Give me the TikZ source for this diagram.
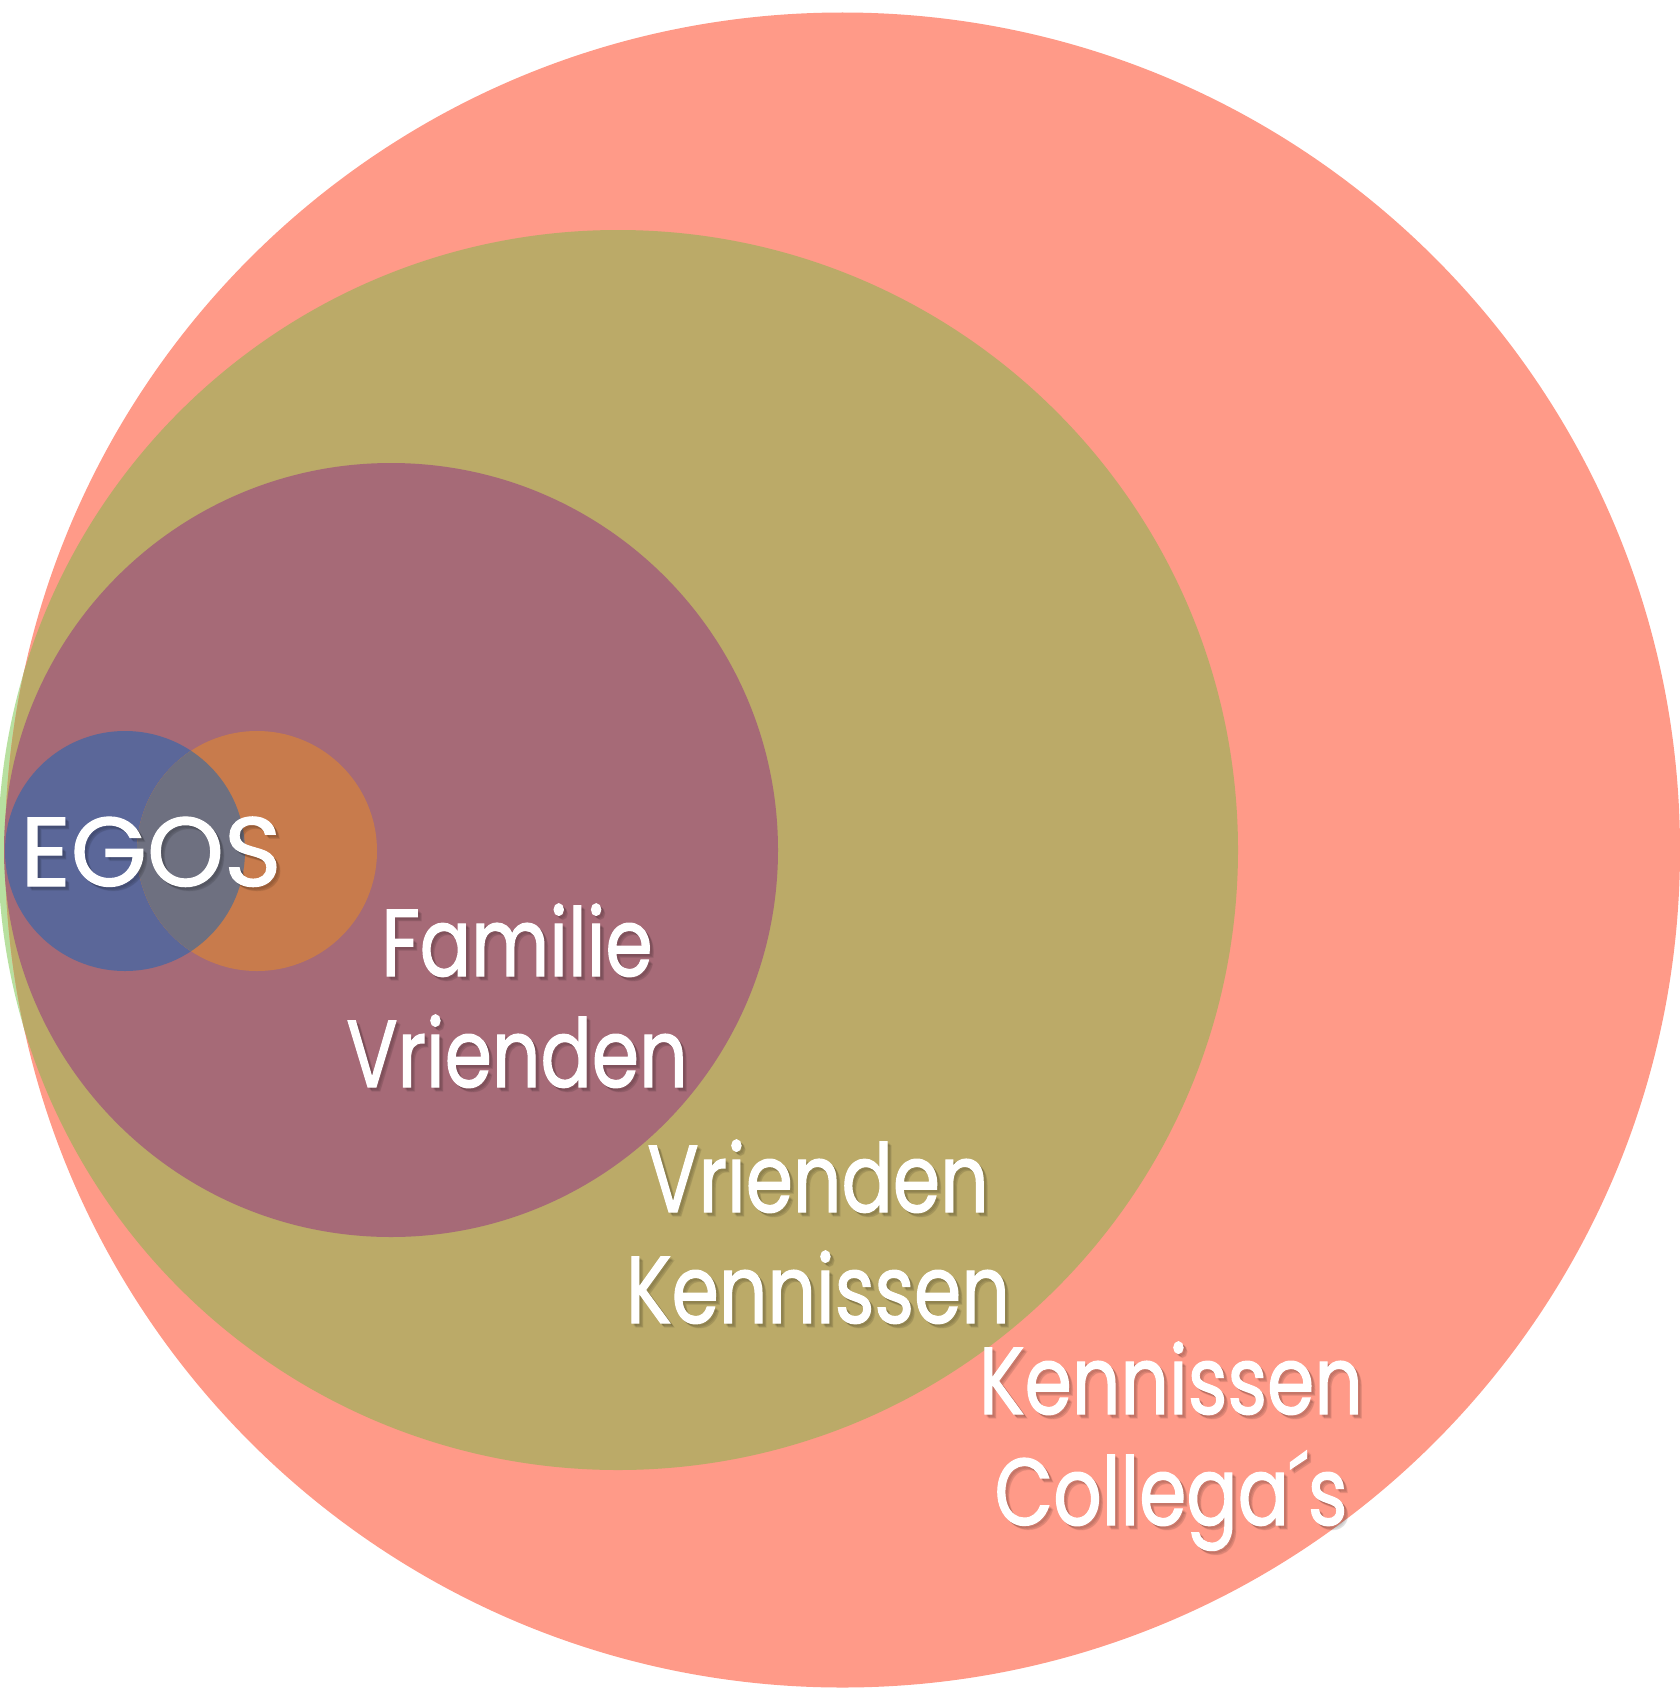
\documentclass[tikz,border=0pt]{standalone}
\usepackage{fontspec}
\newfontfamily\circfont[FakeStretch=0.8,FakeBold=1.2]{Poppins}
\newfontfamily\egofont[FakeBold=1.2]{Poppins}
\definecolor{salmon}{RGB}{255,154,136}
\definecolor{olive}{RGB}{187,170,104}
\definecolor{lightgreen}{RGB}{184,224,160}
\definecolor{mauve}{RGB}{166,106,119}
\definecolor{egoblue}{RGB}{91,103,153}
\definecolor{egoorange}{RGB}{200,123,76}
\definecolor{egogray}{RGB}{110,112,128}

\begin{document}
\begin{tikzpicture}[x=1pt,y=-1pt,
	lbl/.style={text=white,align=center,inner sep=0pt,anchor=base,
		font=\circfont\fontsize{95}{111}\selectfont},
	egolbl/.style={lbl,font=\egofont\fontsize{98}{111}\selectfont},
	shadow/.style={text=black,opacity=0.07}]
	\useasboundingbox (0,0) rectangle (1680,1691);
	% rings
	\fill[lightgreen] (618,850) circle (620);
	\fill[salmon] (842.5,850) circle (837.5);
	\begin{scope}
		\clip (842.5,850) circle (837.5);
		\fill[olive] (618,850) circle (620);
	\end{scope}
	\fill[mauve] (391,850) circle (387);
	% egos
	\fill[egoblue] (125,851) circle (120);
	\fill[egoorange] (257,851) circle (120);
	\begin{scope}
		\clip (125,851) circle (120);
		\fill[egogray] (257,851) circle (120);
	\end{scope}
	% labels, soft shadow first
	\foreach \d in {2,3,4}
	{
		\node[egolbl,shadow] at (151+\d,886+\d) {EGOS};
		\node[lbl,shadow] at (517+\d,1087+\d) {Familie\\Vrienden};
		\node[lbl,shadow] at (818+\d,1323+\d) {Vrienden\\Kennissen};
		\node[lbl,shadow] at (1171+\d,1525+\d) {Kennissen\\Collega´s};
	}
	\node[egolbl] (egos) at (151,886) {EGOS};
	\node[lbl] (familie) at (517,1087) {Familie\\Vrienden};
	\node[lbl] (vrienden) at (818,1323) {Vrienden\\Kennissen};
	\node[lbl] (kennissen) at (1171,1525) {Kennissen\\Collega´s};
\end{tikzpicture}
\end{document}
